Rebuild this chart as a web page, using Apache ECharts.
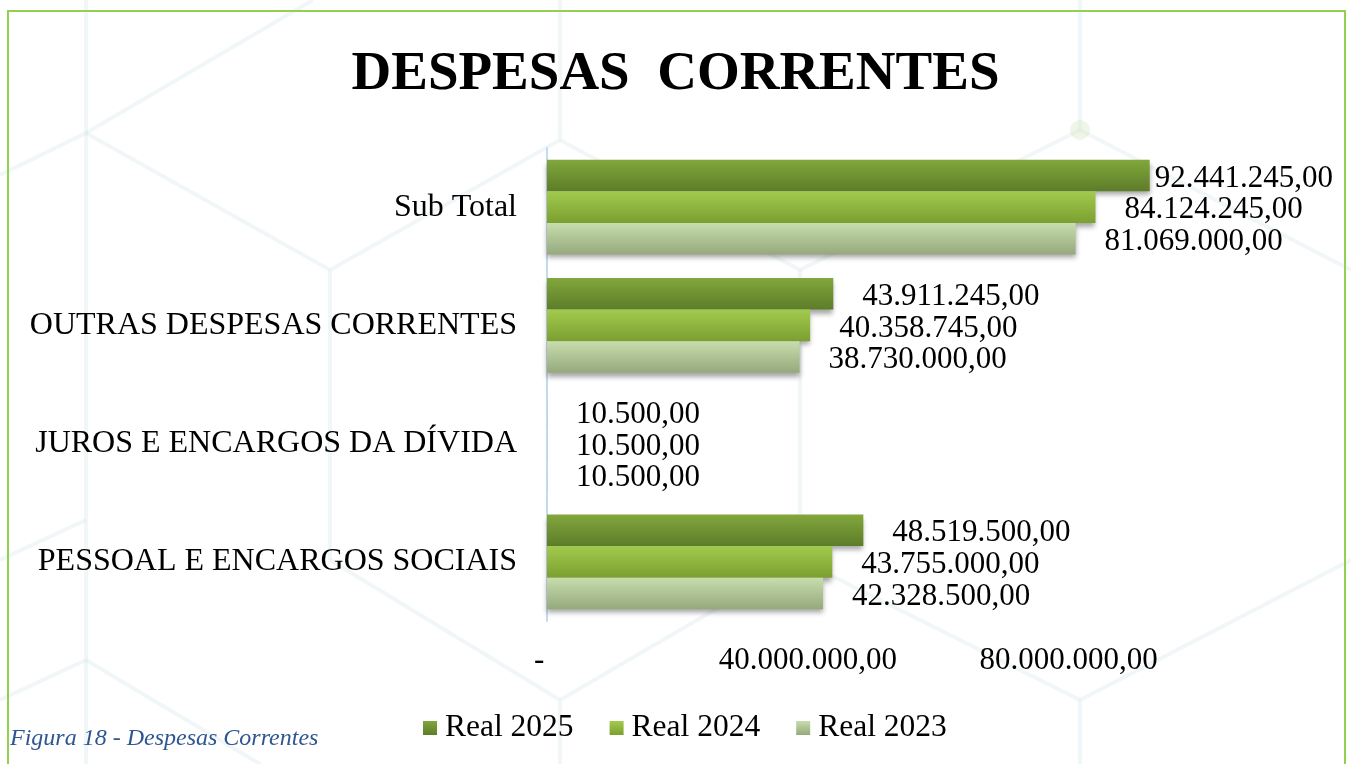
<!DOCTYPE html>
<html>
<head>
<meta charset="utf-8">
<script src="https://cdn.jsdelivr.net/npm/echarts@6/dist/echarts.min.js"></script>
<style>
  html, body { margin: 0; padding: 0; background: #fff; }
  #main { width: 1351px; height: 764px; }
</style>
</head>
<body>
<div id="main"></div>
<script>
var chartDom = document.getElementById('main');
var myChart = echarts.init(chartDom, null, { renderer: 'canvas' });

// categories, bottom to top as the axis draws them
var categories = ['PESSOAL E ENCARGOS SOCIAIS', 'JUROS E ENCARGOS DA DÍVIDA', 'OUTRAS DESPESAS CORRENTES', 'Sub Total'];
var real2025 = [48519500, 10500, 43911245, 92441245];
var real2024 = [43755000, 10500, 40358745, 84124245];
var real2023 = [42328500, 10500, 38730000, 81069000];
var seriesNames = ['Real 2025', 'Real 2024', 'Real 2023'];

var serif = '"Liberation Serif", "Times New Roman", serif';

function fmtBR(v) {
    if (v === 0) return '-';
    let parts = v.toFixed(2).split('.');
    let intPart = parts[0].replace(/\B(?=(\d{3})+(?!\d))/g, '.');
    return intPart + ',' + parts[1];
}

function grad(top, bottom) {
    return new echarts.graphic.LinearGradient(0, 0, 0, 1, [
        { offset: 0, color: top },
        { offset: 1, color: bottom }
    ]);
}

var colors = {
    'Real 2025': grad('#82a73c', '#5d7c29'),
    'Real 2024': grad('#a2ca4e', '#7c9f30'),
    'Real 2023': grad('#c8ddac', '#95a97d')
};

function makeSeries(name, values) {
    // the longest bar has its label pulled in so it stays inside the frame
    let data = values.map(function (v) {
        return v > 90000000 ? { value: v, label: { distance: 5 } } : v;
    });
    return {
        name: name,
        type: 'bar',
        data: data,
        barGap: '0%',
        barCategoryGap: '20%',
        itemStyle: {
            color: colors[name],
            shadowColor: 'rgba(0,0,0,0.35)',
            shadowBlur: 5,
            shadowOffsetY: 4
        },
        label: {
            show: true,
            position: 'right',
            distance: 29,
            offset: [0, 3],
            fontFamily: serif,
            fontSize: 31,
            color: '#000',
            formatter: function (p) { return fmtBR(p.value); }
        }
    };
}

// light hexagon background lines
var bgLines = [
    [[86, 0], [86, 133]], [[0, 175], [86, 133], [313, 0]], [[86, 133], [86, 764]],
    [[86, 133], [330, 270]], [[330, 270], [330, 560]], [[330, 270], [560, 140]],
    [[560, 140], [560, 0]], [[560, 140], [800, 270]], [[800, 270], [1080, 130]],
    [[1080, 130], [1080, 0]], [[1080, 130], [1351, 270]], [[800, 270], [800, 560]],
    [[330, 560], [560, 700]], [[560, 700], [800, 560]], [[560, 700], [560, 764]],
    [[800, 560], [1080, 700]], [[1080, 700], [1351, 560]], [[1080, 700], [1080, 764]],
    [[0, 700], [86, 660]], [[86, 660], [260, 764]], [[0, 560], [86, 520]]
];
var graphics = bgLines.map(function (pts) {
    return {
        type: 'polyline',
        silent: true,
        z: -10,
        shape: { points: pts },
        style: { stroke: 'rgba(205,228,230,0.28)', lineWidth: 4, fill: null }
    };
});
graphics.push({
    type: 'circle', silent: true, z: -10,
    shape: { cx: 1080, cy: 130, r: 10 },
    style: { fill: 'rgba(215,230,195,0.4)' }
});
graphics.push({
    type: 'rect', silent: true, z: 100,
    shape: { x: 8, y: 11, width: 1337, height: 800 },
    style: { stroke: '#92d050', lineWidth: 2, fill: null }
});
graphics.push({
    type: 'text', z: 100,
    left: 10, top: 727,
    style: {
        text: 'Figura 18 - Despesas Correntes',
        font: 'italic 24px "Liberation Serif", "Times New Roman", serif',
        fill: '#2e5690'
    }
});

var option = {
    backgroundColor: '#fff',
    animation: false,
    title: {
        text: 'DESPESAS  CORRENTES',
        left: 'center',
        top: 42,
        textStyle: { fontFamily: serif, fontSize: 55, fontWeight: 'bold', color: '#000' }
    },
    legend: {
        data: seriesNames,
        bottom: 15,
        left: 418,
        itemWidth: 14,
        itemHeight: 14,
        itemGap: 36,
        icon: 'rect',
        textStyle: { fontFamily: serif, fontSize: 31.5, color: '#000', padding: [0, 0, 0, 3] }
    },
    grid: {
        left: 547,
        right: 152,
        top: 148,
        bottom: 143,
        outerBoundsMode: 'none'
    },
    xAxis: {
        type: 'value',
        min: 0,
        max: 100000000,
        interval: 40000000,
        splitLine: { show: false },
        axisLine: { show: false },
        axisTick: { show: false },
        axisLabel: {
            showMaxLabel: false,
            margin: 24,
            fontFamily: serif,
            fontSize: 31,
            color: '#000',
            formatter: function (v) { return v === 0 ? '-  ' : fmtBR(v); }
        }
    },
    yAxis: {
        type: 'category',
        data: categories,
        axisLine: { show: true, lineStyle: { color: '#c6d9ef', width: 2 } },
        axisTick: { show: false },
        axisLabel: { margin: 30, fontFamily: serif, fontSize: 32, color: '#000' }
    },
    graphic: graphics,
    series: [
        makeSeries('Real 2025', real2025),
        makeSeries('Real 2024', real2024),
        makeSeries('Real 2023', real2023)
    ]
};

option && myChart.setOption(option);
</script>
</body>
</html>
